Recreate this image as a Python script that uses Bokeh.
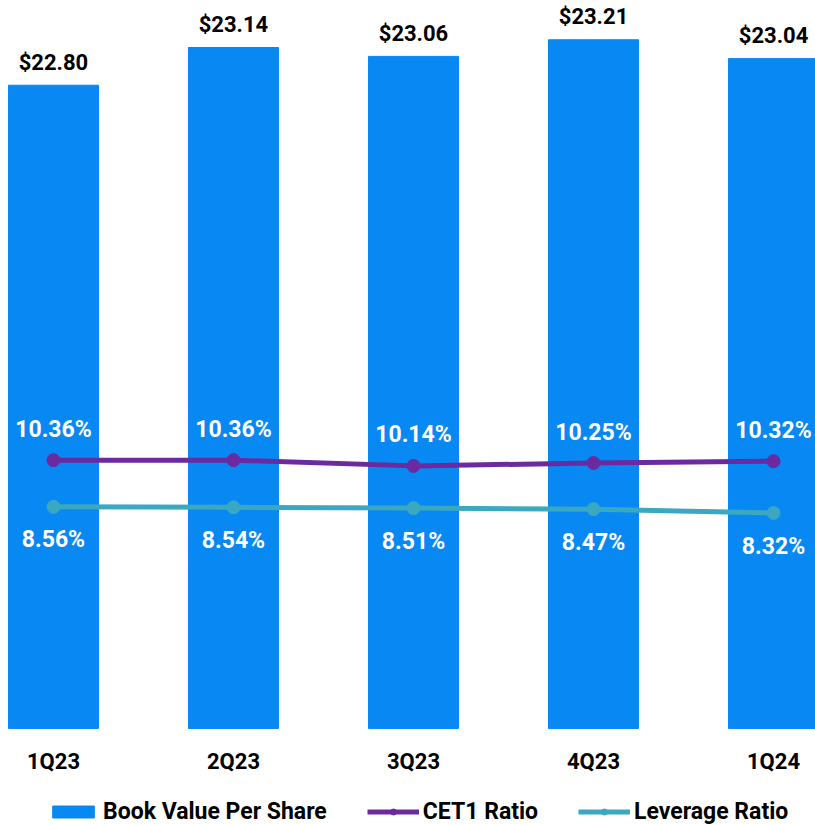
from bokeh.plotting import figure
from bokeh.models import Range1d, Legend, LegendItem, ColumnDataSource
from bokeh.core.properties import value
from bokeh.embed import file_html
from bokeh.resources import INLINE

quarters = ["1Q23", "2Q23", "3Q23", "4Q23", "1Q24"]
bvps = [22.80, 23.14, 23.06, 23.21, 23.04]
cet1 = [10.36, 10.36, 10.14, 10.25, 10.32]
leverage = [8.56, 8.54, 8.51, 8.47, 8.32]

FONT = "Roboto"
BLUE = "#0888F2"
PURPLE = "#6C2AA0"
TEAL = "#3AA8C1"
BASE = 17.0

xs = list(range(len(quarters)))
src = ColumnDataSource(dict(
    x=xs, q=quarters, bvps=bvps, cet1=cet1, lev=leverage,
    base=[BASE] * len(xs),
    bvps_lbl=[f"${v:.2f}" for v in bvps],
    cet1_lbl=[f"{v:.2f}%" for v in cet1],
    lev_lbl=[f"{v:.2f}%" for v in leverage],
))

p = figure(width=815, height=825, output_backend="svg", toolbar_location=None,
           x_range=Range1d(-0.2944, 4.2333), y_range=Range1d(16.125, 23.564),
           min_border_left=0, min_border_right=0, min_border_top=0, min_border_bottom=0,
           outline_line_color=None)
p.extra_y_ranges = {"pct": Range1d(-3.745, 28.108)}
p.grid.visible = False
p.axis.visible = False

bars = p.vbar(x="x", top="bvps", bottom=BASE, width=0.5, source=src,
              fill_color=BLUE, line_color=BLUE)
p.text(x="x", y="bvps", text="bvps_lbl", source=src, text_align="center",
       text_baseline="alphabetic", y_offset=-23, text_font=value(FONT),
       text_font_style="bold", text_font_size="22px", text_color="black")

# category labels under the bars
p.text(x="x", y="base", text="q", source=src, text_align="center",
       text_baseline="alphabetic", y_offset=33, text_font=value(FONT),
       text_font_style="bold", text_font_size="22px", text_color="black")

l1 = p.line(x="x", y="cet1", source=src, y_range_name="pct", line_color=PURPLE, line_width=5)
s1 = p.scatter(x="x", y="cet1", source=src, y_range_name="pct", size=13,
               fill_color=PURPLE, line_color=PURPLE)
l2 = p.line(x="x", y="lev", source=src, y_range_name="pct", line_color=TEAL, line_width=5)
s2 = p.scatter(x="x", y="lev", source=src, y_range_name="pct", size=13,
               fill_color=TEAL, line_color=TEAL)

p.text(x="x", y="cet1", text="cet1_lbl", source=src, y_range_name="pct",
       text_align="center", text_baseline="alphabetic", y_offset=-31,
       text_font=value(FONT), text_font_style="bold", text_font_size="23px",
       text_color="white")
p.text(x="x", y="lev", text="lev_lbl", source=src, y_range_name="pct",
       text_align="center", text_baseline="alphabetic", y_offset=33,
       text_font=value(FONT), text_font_style="bold", text_font_size="23px",
       text_color="white")

legend = Legend(items=[
    LegendItem(label="Book Value Per Share", renderers=[bars]),
    LegendItem(label="CET1 Ratio", renderers=[l1, s1]),
    LegendItem(label="Leverage Ratio", renderers=[l2, s2]),
], orientation="horizontal", location=(47, 0), border_line_color=None,
    background_fill_alpha=0, label_text_font=FONT, label_text_font_style="bold",
    label_text_font_size="23px", label_text_color="black",
    glyph_width=52, glyph_height=15,
    label_standoff=4, spacing=40, padding=0, margin=0)
p.add_layout(legend, "center")

open("out.html", "w").write(file_html(p, INLINE))
